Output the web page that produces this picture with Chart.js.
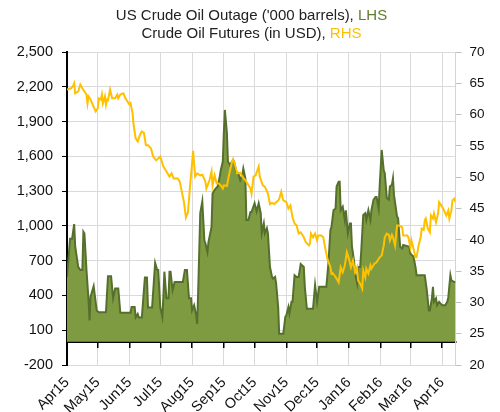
<!DOCTYPE html>
<html>
<head>
<meta charset="utf-8">
<script src="https://cdn.jsdelivr.net/npm/chart.js@4.4.1/dist/chart.umd.min.js"></script>
<style>
  body { margin: 0; background: #fff; }
  #wrap { position: relative; width: 500px; height: 412px; }
  #title { position: absolute; left: 0; top: 6px; width: 503px; text-align: center;
    font: 15px "Liberation Sans", Arial, sans-serif; color: #222; line-height: 18px; }
  .lhs { color: #5f7d2e; }
  .rhs { color: #ffc000; }
</style>
</head>
<body>
<div id="wrap">
  <canvas id="chart" width="500" height="412"></canvas>
  <div id="title">US Crude Oil Outage ('000 barrels), <span class="lhs">LHS</span><br>Crude Oil Futures (in USD), <span class="rhs">RHS</span></div>
</div>
<script>
// days counted from 1 Apr 2015
const monthDays = [0, 30, 61, 91, 122, 153, 183, 214, 244, 275, 306, 335, 366];
const monthLabels = ['Apr15', 'May15', 'Jun15', 'Jul15', 'Aug15', 'Sep15', 'Oct15', 'Nov15', 'Dec15', 'Jan16', 'Feb16', 'Mar16', 'Apr16'];
const lastDay = 379;

// US crude oil outage ('000 barrels), LHS
const outageDays = [0, 3, 5, 7, 8, 11, 13, 15, 16, 17, 19, 21, 22, 23, 26, 29, 31, 38, 40, 43, 45, 47, 50, 52, 62, 63, 66, 67, 69, 70, 73, 76, 78, 79, 83, 86, 88, 89, 91, 92, 93, 94, 95, 97, 99, 100, 101, 103, 105, 113, 115, 117, 119, 121, 122, 124, 126, 127, 128, 130, 132, 134, 135, 137, 138, 141, 142, 144, 147, 149, 150, 152, 153, 154, 156, 157, 159, 161, 163, 165, 167, 169, 171, 172, 174, 175, 177, 179, 180, 183, 185, 187, 189, 190, 192, 193, 195, 196, 198, 200, 201, 203, 204, 206, 207, 211, 213, 214, 216, 217, 219, 220, 222, 224, 226, 228, 231, 232, 234, 240, 242, 244, 246, 253, 255, 257, 258, 260, 262, 263, 265, 266, 267, 269, 271, 272, 274, 276, 277, 278, 280, 281, 283, 284, 286, 287, 289, 291, 292, 294, 296, 297, 299, 301, 302, 304, 305, 307, 309, 310, 312, 314, 315, 317, 318, 319, 322, 323, 325, 327, 328, 334, 335, 338, 340, 341, 349, 351, 353, 354, 356, 357, 358, 360, 361, 363, 366, 369, 371, 372, 374, 375, 378, 379];
const outage = [560, 890, 890, 1015, 820, 645, 620, 620, 950, 935, 620, 360, 185, 390, 480, 270, 255, 255, 565, 565, 375, 460, 460, 250, 250, 300, 300, 210, 240, 210, 210, 555, 555, 295, 295, 680, 620, 620, 295, 257, 215, 385, 605, 375, 375, 605, 605, 445, 515, 515, 620, 620, 375, 375, 270, 315, 230, 155, 445, 1110, 1210, 875, 850, 775, 860, 990, 1280, 1310, 1340, 1425, 1480, 1555, 1800, 2000, 1800, 1555, 1525, 1555, 1555, 1470, 1455, 1395, 1440, 1495, 1410, 1050, 1050, 1120, 1120, 1195, 1125, 1195, 1110, 935, 1020, 935, 980, 935, 645, 560, 545, 560, 505, 300, 70, 70, 215, 230, 300, 245, 345, 345, 575, 560, 560, 670, 645, 475, 285, 285, 490, 345, 475, 475, 675, 965, 990, 1135, 1150, 1340, 1380, 1380, 1135, 1165, 1050, 1135, 935, 1020, 1020, 820, 700, 590, 505, 645, 645, 775, 1095, 1110, 1050, 1135, 1050, 1135, 1225, 1250, 1250, 1150, 1340, 1655, 1480, 1455, 1240, 1225, 1340, 1355, 1410, 1265, 1080, 1065, 820, 805, 835, 820, 760, 735, 645, 575, 575, 445, 270, 270, 375, 475, 345, 375, 315, 345, 315, 315, 345, 385, 575, 530, 515, 515];

// Crude oil futures (USD), RHS
const futuresDays = [0, 4, 6, 7, 8, 11, 13, 15, 17, 19, 20, 21, 23, 25, 28, 30, 31, 33, 34, 35, 37, 38, 39, 40, 42, 44, 47, 49, 50, 52, 55, 57, 59, 61, 62, 64, 65, 67, 69, 71, 73, 75, 77, 79, 82, 84, 87, 89, 91, 94, 97, 100, 102, 104, 108, 110, 112, 114, 116, 118, 120, 122, 123, 125, 127, 130, 132, 135, 136, 139, 141, 142, 144, 146, 148, 150, 152, 153, 156, 158, 161, 162, 164, 166, 169, 171, 174, 176, 179, 180, 182, 184, 187, 188, 191, 193, 196, 198, 200, 202, 205, 207, 209, 211, 214, 216, 218, 220, 222, 224, 226, 228, 231, 233, 236, 237, 238, 240, 242, 244, 245, 248, 250, 252, 254, 257, 258, 259, 261, 263, 265, 267, 269, 271, 273, 275, 277, 279, 281, 283, 284, 286, 288, 289, 291, 292, 294, 296, 297, 300, 302, 305, 307, 309, 310, 312, 314, 315, 317, 318, 320, 322, 324, 327, 328, 332, 333, 335, 336, 338, 340, 341, 343, 345, 346, 348, 349, 350, 352, 354, 355, 357, 358, 360, 362, 363, 365, 367, 368, 370, 372, 373, 375, 376, 378, 379];
const futures = [64.0, 64.2, 64.6, 65.0, 63.4, 63.7, 64.8, 64.2, 63.7, 63.2, 61.8, 62.9, 62.4, 61.6, 60.5, 61.0, 62.6, 62.4, 63.2, 61.8, 62.9, 61.6, 62.4, 62.3, 64.0, 62.6, 62.6, 63.2, 62.6, 63.2, 63.4, 62.6, 62.1, 61.6, 61.8, 60.2, 58.3, 56.2, 55.7, 56.7, 57.3, 57.1, 55.1, 55.1, 54.6, 53.3, 52.7, 53.0, 53.3, 51.7, 50.9, 50.1, 50.6, 49.8, 49.8, 49.3, 47.7, 46.1, 43.6, 44.4, 48.5, 52.2, 54.2, 50.1, 50.6, 50.3, 50.4, 49.3, 48.2, 49.5, 50.9, 48.7, 50.3, 49.0, 49.0, 48.7, 48.2, 48.7, 48.6, 50.3, 52.5, 52.9, 51.9, 50.6, 50.7, 50.1, 49.5, 49.0, 48.2, 47.4, 50.1, 50.3, 51.7, 50.1, 48.7, 48.5, 47.4, 45.7, 45.9, 45.7, 46.1, 46.5, 47.7, 46.3, 46.0, 45.0, 45.5, 43.6, 42.6, 42.3, 41.0, 41.2, 40.4, 39.6, 39.1, 39.4, 41.0, 40.4, 41.0, 39.9, 40.7, 40.7, 40.4, 38.6, 37.0, 35.6, 34.6, 34.7, 34.3, 33.8, 33.2, 35.6, 34.8, 35.9, 38.0, 37.0, 35.6, 36.7, 34.8, 35.6, 33.5, 33.0, 32.2, 35.1, 34.0, 35.4, 34.6, 35.9, 35.4, 36.2, 36.4, 37.2, 37.5, 39.1, 40.4, 41.0, 40.8, 39.9, 40.8, 40.4, 39.1, 42.3, 42.3, 42.0, 40.7, 40.7, 40.4, 38.8, 39.9, 38.6, 37.2, 37.2, 39.1, 40.4, 41.8, 41.6, 43.1, 43.4, 41.8, 41.2, 43.9, 43.4, 44.2, 42.8, 44.2, 46.0, 45.5, 45.0, 44.6, 43.9, 44.7, 43.4, 44.7, 46.3, 46.6, 46.0];

const font = { family: '"Liberation Sans", Arial, sans-serif', size: 14.5 };

function monthTicks(scale) {
  scale.ticks = monthDays.map(v => ({ value: v }));
}

new Chart(document.getElementById('chart'), {
  type: 'line',
  data: {
    datasets: [
      {
        label: 'Crude Oil Futures',
        data: futuresDays.map((d, i) => ({ x: d, y: futures[i] })),
        yAxisID: 'y1',
        borderColor: '#ffc000',
        borderWidth: 2,
        pointRadius: 0,
        tension: 0,
        fill: false,
        order: 0
      },
      {
        label: 'US Crude Oil Outage',
        data: outageDays.map((d, i) => ({ x: d, y: outage[i] })),
        yAxisID: 'y',
        borderColor: '#556f2d',
        backgroundColor: '#7f9b42',
        borderWidth: 2,
        pointRadius: 0,
        tension: 0,
        fill: 'origin',
        order: 1
      }
    ]
  },
  options: {
    responsive: false,
    animation: false,
    layout: { padding: { top: 52, left: 0, right: 0, bottom: 0 } },
    plugins: { legend: { display: false }, tooltip: { enabled: false } },
    scales: {
      x: {
        type: 'linear',
        min: 0,
        max: lastDay,
        afterBuildTicks: monthTicks,
        afterFit: s => { s.height = 47; },
        grid: { color: '#dadada', tickLength: 0 },
        border: { display: false },
        ticks: {
          font, color: '#111', minRotation: 45, maxRotation: 45, padding: 9,
          callback: v => monthLabels[monthDays.indexOf(v)]
        }
      },
      xAxis0: {
        type: 'linear',
        min: 0,
        max: lastDay,
        position: { y: 0 },
        z: 1,
        afterBuildTicks: monthTicks,
        grid: { drawOnChartArea: false, color: '#000', tickLength: 5, lineWidth: 1.5 },
        border: { color: '#000', width: 2 },
        ticks: { display: false }
      },
      y: {
        position: 'left',
        min: -200,
        max: 2500,
        afterFit: s => { s.width = 67; },
        grid: { color: '#dadada', tickColor: '#000', tickLength: 5 },
        border: { color: '#000', width: 2 },
        ticks: { stepSize: 300, font, color: '#111', padding: 9 }
      },
      y1: {
        position: 'right',
        min: 20,
        max: 70,
        afterFit: s => { s.width = 44.5; },
        grid: { drawOnChartArea: false, color: '#bfbfbf', tickLength: 6 },
        border: { color: '#d4d4d4', width: 1 },
        ticks: { stepSize: 5, font: { family: '"Liberation Sans", Arial, sans-serif', size: 13.5 }, color: '#111', padding: 8 }
      }
    }
  }
});
</script>
</body>
</html>
